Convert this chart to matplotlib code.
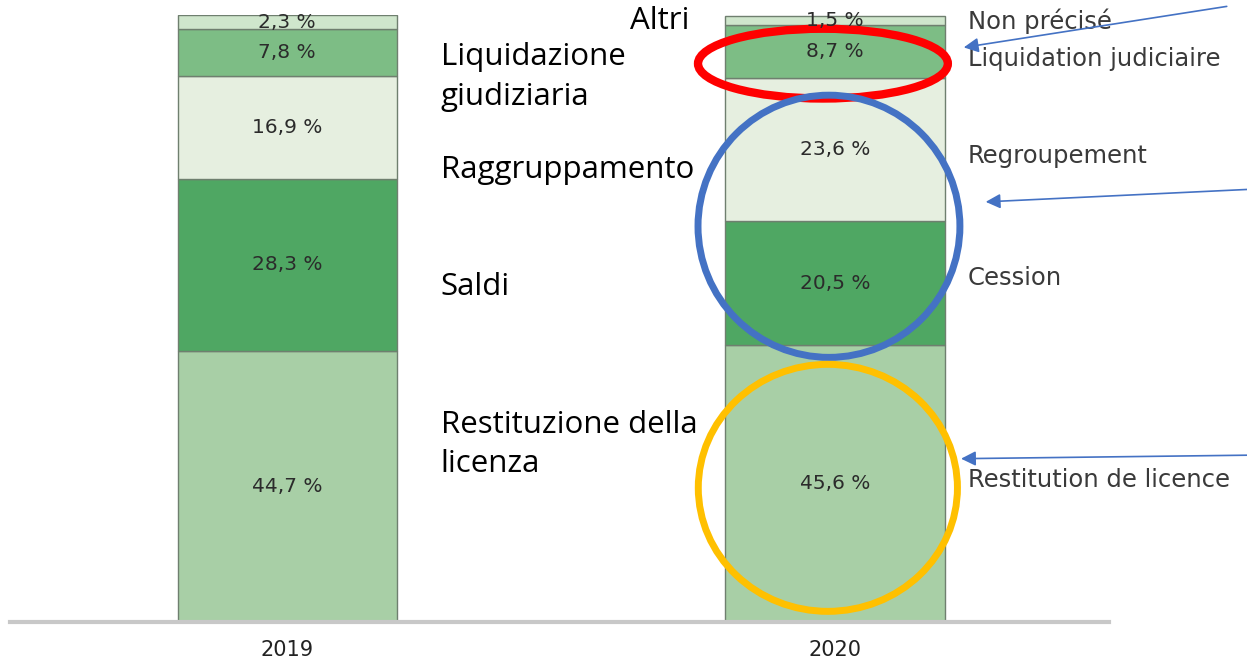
import matplotlib.pyplot as plt
from matplotlib.patches import Ellipse

years = ['2019', '2020']
categories_fr = ['Restitution de licence', 'Cession', 'Regroupement',
                 'Liquidation judiciaire', 'Non précisé']
categories_it = ['Restituzione della\nlicenza', 'Saldi', 'Raggruppamento',
                 'Liquidazione\ngiudiziaria', 'Altri']
values_2019 = [44.7, 28.3, 16.9, 7.8, 2.3]
values_2020 = [45.6, 20.5, 23.6, 8.7, 1.5]
colors = ['#a8cfa6', '#4fa763', '#e6efe0', '#7dbd85', '#cfe6cc']

fig = plt.figure(figsize=(12.47, 6.64), dpi=100)
ax = fig.add_axes([0, 0.0633, 1, 0.914])
ax.set_xlim(-0.524, 1.752)
ax.set_ylim(0, 100)
ax.axis('off')

x = [0, 1]
for xi, vals in zip(x, [values_2019, values_2020]):
    bottom = 0
    for v, c in zip(vals, colors):
        ax.bar(xi, v, bottom=bottom, width=0.40, color=c,
               edgecolor='#6f7f6f', linewidth=1)
        ax.text(xi, bottom + v / 2, f'{v:.1f} %'.replace('.', ','),
                ha='center', va='center', fontsize=14.5, color='#2b2b2b',
                family='DejaVu Sans')
        bottom += v

# baseline
ax.plot([-0.506, 1.5], [0, 0], color='#c8c8c8', lw=3, clip_on=False)
for xi, y in zip(x, years):
    ax.text(xi, -4.7, y, ha='center', va='center', fontsize=15,
            color='#222222', family='DejaVu Sans', clip_on=False)

# French labels right of 2020 bar
fr_y = [23.4, 56.6, 76.7, 92.8, 99.0]
for lab, yy in zip(categories_fr, fr_y):
    ax.text(1.243, yy, lab, ha='left', va='center', fontsize=17.5,
            color='#3a3a3a', family='DejaVu Sans')

# Italian labels
it_pos = [(0.28, 29.2), (0.28, 55.2), (0.28, 74.4), (0.28, 89.8), (0.626, 99.0)]
for lab, (xx, yy) in zip(categories_it, it_pos):
    ax.text(xx, yy, lab, ha='left', va='center', fontsize=22.5,
            color='black', family='Open Sans', linespacing=1.4)

# circles
ax.add_patch(Ellipse((0.978, 92.0), 0.456, 11.5, fill=False,
                     edgecolor='#ff0000', lw=6, clip_on=False))
ax.add_patch(Ellipse((0.989, 65.2), 0.478, 43.2, fill=False,
                     edgecolor='#4472c4', lw=5, clip_on=False))
ax.add_patch(Ellipse((0.987, 22.1), 0.473, 40.7, fill=False,
                     edgecolor='#ffc000', lw=5, clip_on=False))

# arrows
arrows = [((1.72, 101.5), (1.23, 94.6)),
          ((1.76, 71.3), (1.27, 69.2)),
          ((1.77, 27.5), (1.225, 26.9))]
for start, end in arrows:
    ax.annotate('', xy=end, xytext=start, annotation_clip=False,
                arrowprops=dict(arrowstyle='-|>', color='#4472c4', lw=1.2,
                                mutation_scale=22))

fig.savefig('out.png', dpi=100)
